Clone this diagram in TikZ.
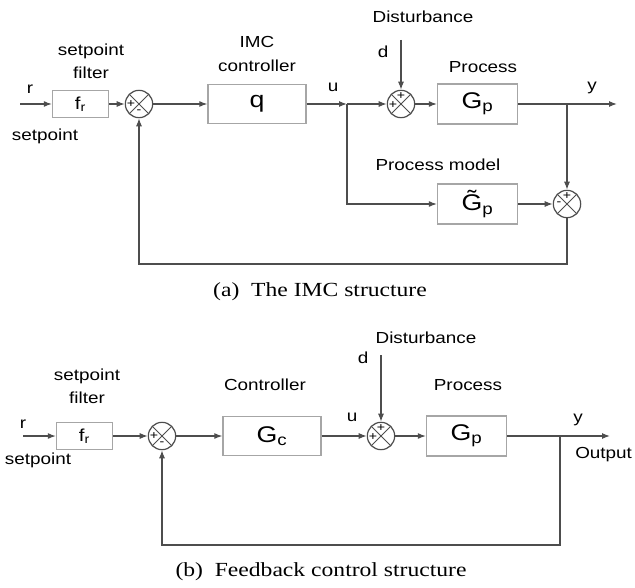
\documentclass[tikz,border=0pt]{standalone}
\usepackage{fontspec}
\setmainfont{Liberation Sans}[FakeStretch=1.18]
\newfontfamily\capfont{Liberation Serif}[FakeStretch=1.18]
\usepackage{tikz}
\usetikzlibrary{arrows.meta}
\definecolor{line_gray}{HTML}{4D4D4D}
\definecolor{box_gray}{HTML}{A6A6A6}

\begin{document}
\begin{tikzpicture}[
                x=0.75pt,
                y=-0.75pt,
                wire/.style={line_gray, line width=0.9pt},
                arr/.style={wire, -{Latex[length=6pt,width=4.5pt]}},
                blk/.style={draw=box_gray, line width=1pt, inner sep=0pt, font=\fontsize{17}{20}\selectfont},
                smallblk/.style={blk, minimum width=42pt, minimum height=20.5pt, font=\fontsize{13}{15}\selectfont},
                bigblk/.style={blk, minimum width=73.5pt, minimum height=29.5pt},
                gblk/.style={blk, minimum width=60pt, minimum height=30pt},
                sumj/.style={circle, draw=line_gray, line width=0.9pt, minimum size=20.5pt, inner sep=0pt},
                sgn/.style={font=\fontsize{9}{10}\selectfont, inner sep=0pt},
                lbl/.style={font=\fontsize{12}{17.5}\selectfont, inner sep=0pt, align=center},
                capt/.style={font=\capfont\fontsize{15}{18}\selectfont, inner sep=0pt}
            ]
            \useasboundingbox (0,0) rectangle (635,588);

            % (a) IMC structure: blocks and summing junctions
            \coordinate (ra) at (20,104);
            \node[smallblk] (fra) at (80.5,104) {f\textsubscript{r}};
            \node[sumj] (s1a) at (139,104) {};
            \node[bigblk] (qa) at (257,104) {q};
            \coordinate (ua) at (347,104);
            \node[sumj] (s2a) at (401,104) {};
            \coordinate (da) at (401,40);
            \node[gblk] (gpa) at (477.5,104) {G\textsubscript{p}};
            \coordinate (ya) at (567,104);
            \coordinate (outa) at (617,104);
            \node[gblk] (gma) at (477.5,204) {\~{G}\textsubscript{p}};
            \node[sumj] (s3a) at (567,204) {};
            \coordinate (fba) at (567,264);

            % (a) signal lines
            \draw[arr] (ra) -- (fra);
            \draw[arr] (fra) -- (s1a);
            \draw[arr] (s1a) -- (qa);
            \draw[arr] (qa) -- (ua);
            \draw[arr] (ua) -- (s2a);
            \draw[arr] (da) -- (s2a);
            \draw[arr] (s2a) -- (gpa);
            \draw[wire] (gpa) -- (ya);
            \draw[arr] (ya) -- (outa);
            \draw[arr] (ya) -- (s3a);
            \draw[arr] (ua) |- (gma);
            \draw[arr] (gma) -- (s3a);
            \draw[arr] (s3a) -- (fba) -| (s1a);

            % (a) labels
            \node[lbl] (ra_lbl) at (30,89) {r};
            \node[lbl] (spa) at (45,136) {setpoint};
            \node[lbl] (sfa) at (91,61) {setpoint\\filter};
            \node[lbl] (imca) at (257,54) {IMC\\controller};
            \node[lbl] (ua_lbl) at (333,87) {u};
            \node[lbl] (dista) at (423,17) {Disturbance};
            \node[lbl] (da_lbl) at (383,52) {d};
            \node[lbl] (proca) at (483,67) {Process};
            \node[lbl] (ya_lbl) at (592,88) {y};
            \node[lbl] (pma) at (438,165) {Process model};
            \node[capt] (capa) at (320,292) {(a)\ \ The IMC structure};

            % (b) Feedback structure: blocks and summing junctions
            \coordinate (rb) at (23,436);
            \node[smallblk] (frb) at (84.5,436) {f\textsubscript{r}};
            \node[sumj] (s1b) at (162,436) {};
            \node[bigblk] (gcb) at (272,436) {G\textsubscript{c}};
            \node[sumj] (s2b) at (381,436) {};
            \coordinate (db) at (381,355);
            \node[gblk] (gpb) at (466.5,436) {G\textsubscript{p}};
            \coordinate (yb) at (560,436);
            \coordinate (outb) at (610,436);
            \coordinate (fbb) at (560,545);

            % (b) signal lines
            \draw[arr] (rb) -- (frb);
            \draw[arr] (frb) -- (s1b);
            \draw[arr] (s1b) -- (gcb);
            \draw[arr] (gcb) -- (s2b);
            \draw[arr] (db) -- (s2b);
            \draw[arr] (s2b) -- (gpb);
            \draw[arr] (gpb) -- (outb);
            \draw[arr] (yb) -- (fbb) -| (s1b);

            % (b) labels
            \node[lbl] (rb_lbl) at (23,424) {r};
            \node[lbl] (spb) at (38,460) {setpoint};
            \node[lbl] (sfb) at (87,386.5) {setpoint\\filter};
            \node[lbl] (ctrlb) at (265,385) {Controller};
            \node[lbl] (ub_lbl) at (352,417) {u};
            \node[lbl] (distb) at (426,338) {Disturbance};
            \node[lbl] (db_lbl) at (363,358) {d};
            \node[lbl] (procb) at (468,385) {Process};
            \node[lbl] (yb_lbl) at (578,420) {y};
            \node[lbl, anchor=west] (outb_lbl) at (575,455) {Output};
            \node[capt] (capb) at (321,572) {(b)\ \ Feedback control structure};

            % crosses and signs of the summing junctions
            \foreach \s in {s1a,s2a,s3a,s1b,s2b}
                \draw[line_gray, line width=0.7pt] (\s.45) -- (\s.225) (\s.135) -- (\s.315);
            \node[sgn] (s1a_p) at ([shift={(-8,0)}]s1a.center) {+};
            \node[sgn] (s1a_m) at ([shift={(0,8)}]s1a.center) {-};
            \node[sgn] (s2a_p) at ([shift={(-8,1)}]s2a.center) {+};
            \node[sgn] (s2a_d) at ([shift={(0,-8)}]s2a.center) {+};
            \node[sgn] (s3a_p) at ([shift={(0,-8)}]s3a.center) {+};
            \node[sgn] (s3a_m) at ([shift={(-8,0)}]s3a.center) {-};
            \node[sgn] (s1b_p) at ([shift={(-8,0)}]s1b.center) {+};
            \node[sgn] (s1b_m) at ([shift={(0,8)}]s1b.center) {-};
            \node[sgn] (s2b_p) at ([shift={(-8,1)}]s2b.center) {+};
            \node[sgn] (s2b_d) at ([shift={(0,-8)}]s2b.center) {+};
        \end{tikzpicture}
\end{document}
